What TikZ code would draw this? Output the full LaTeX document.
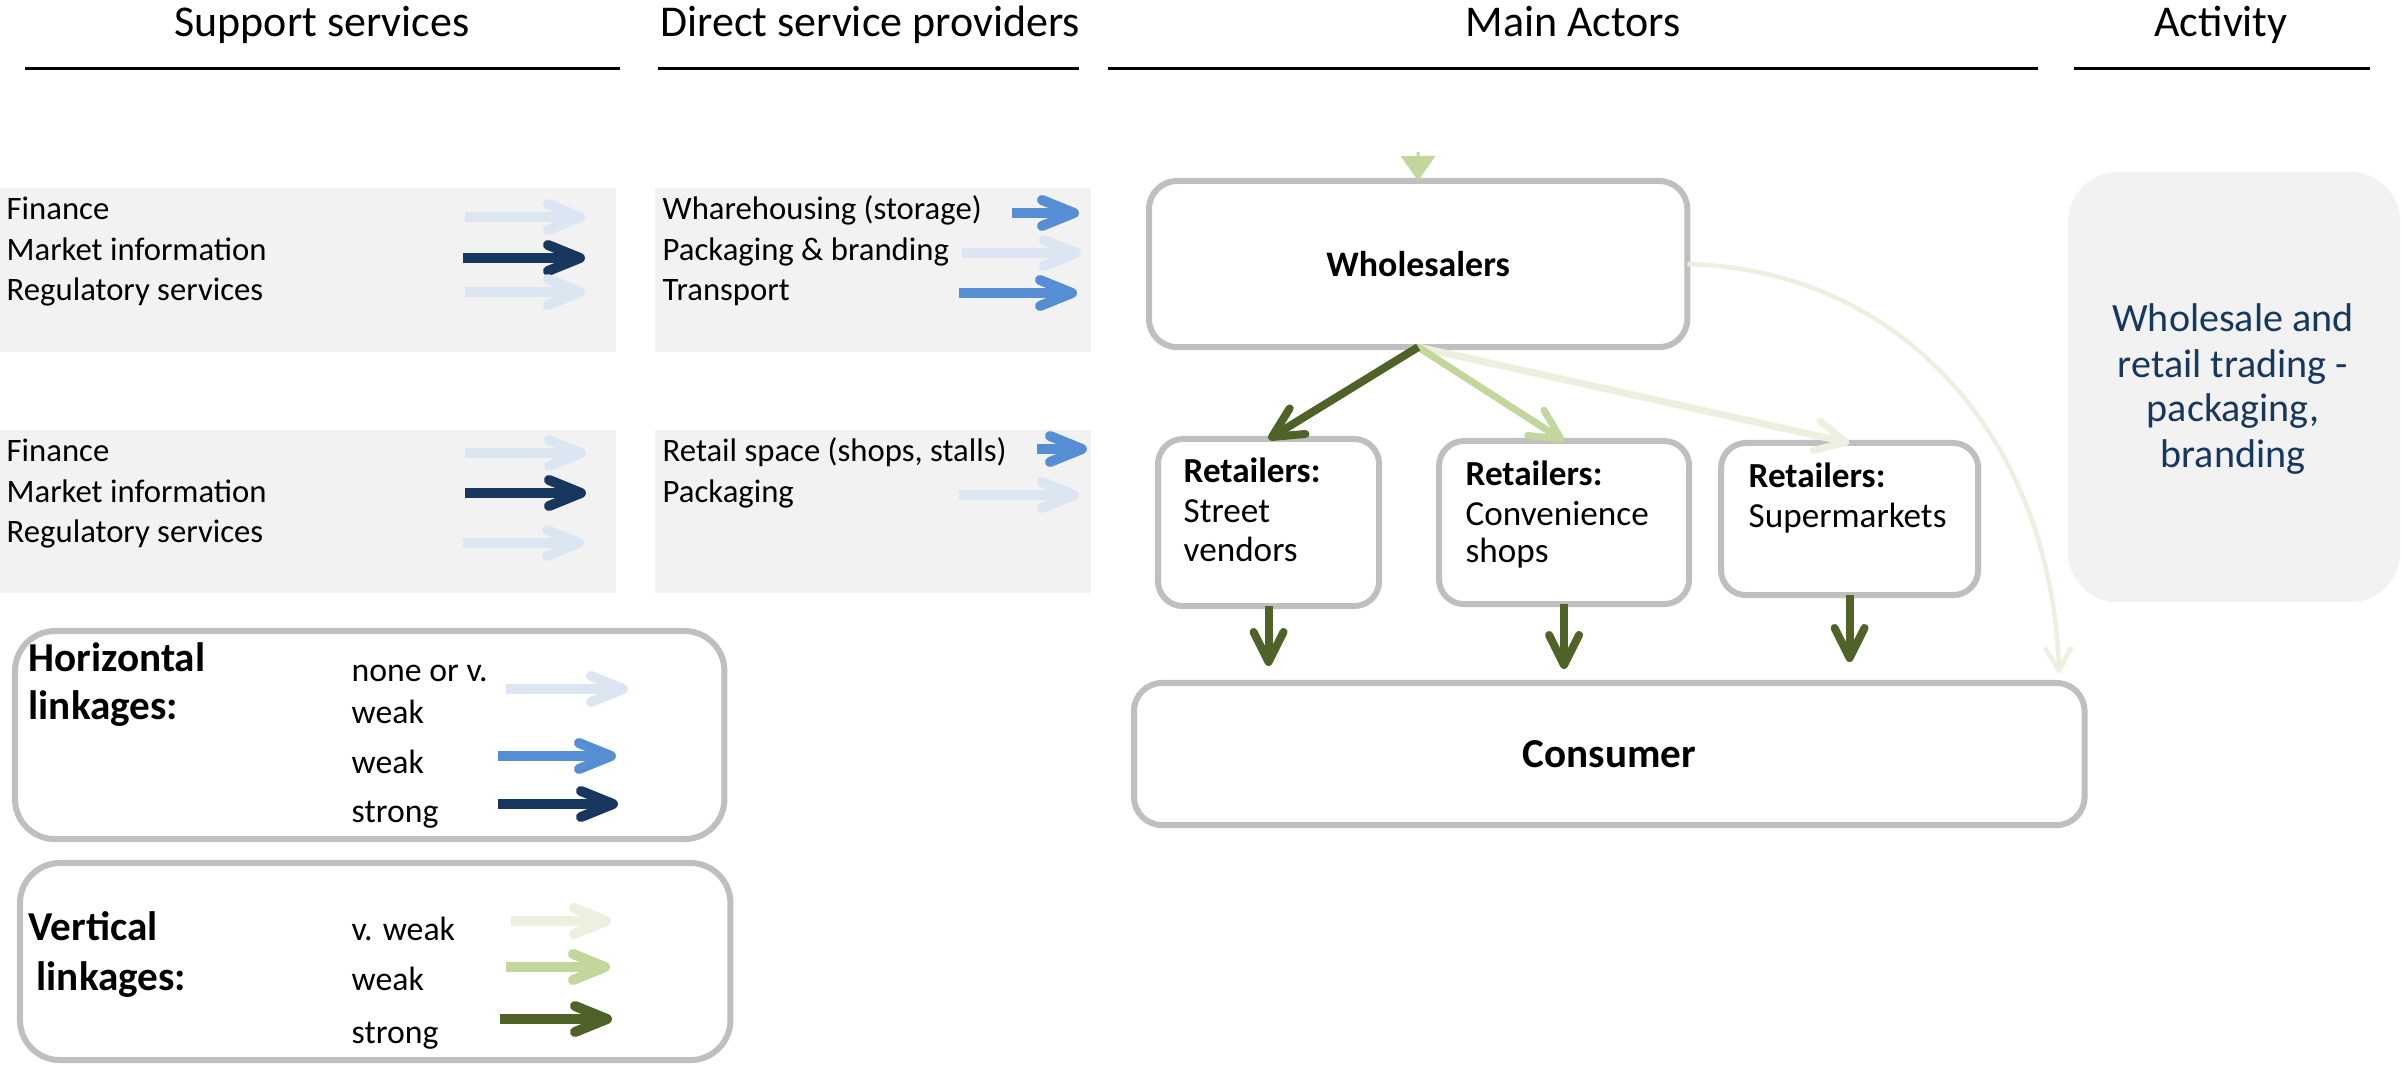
\documentclass[tikz,border=0pt]{standalone}
\usepackage{fontspec}
\setmainfont{Carlito}
\usetikzlibrary{arrows.meta}
\definecolor{lblue}{HTML}{DCE6F2}
\definecolor{mblue}{HTML}{558ED5}
\definecolor{dblue}{HTML}{17375E}
\definecolor{vgreen}{HTML}{EBF1DE}
\definecolor{wgreen}{HTML}{C3D69B}
\definecolor{sgreen}{HTML}{4F6228}
\definecolor{boxgray}{HTML}{F2F2F2}
\definecolor{bordergray}{HTML}{BFBFBF}
\definecolor{acttext}{HTML}{17375E}
\begin{document}
\begin{tikzpicture}[x=0.01cm, y=-0.01cm,
  hdr/.style={font=\fontsize{12.5}{15}\selectfont, anchor=base, inner sep=0pt},
  hline/.style={line width=0.3mm, black},
  panel/.style={fill=boxgray, draw=none, anchor=north west, inner sep=0pt, outer sep=0pt},
  txt/.style={font=\fontsize{9.3}{11.3}\selectfont, anchor=base west, inner sep=0pt},
  lgtitle/.style={font=\bfseries\fontsize{11.7}{14}\selectfont, anchor=base west, inner sep=0pt},
  lgtxt/.style={font=\fontsize{9.6}{11.6}\selectfont, anchor=base west, inner sep=0pt},
  rtxt/.style={font=\fontsize{10}{12}\selectfont, anchor=base west, inner sep=0pt},
  acttxt/.style={font=\fontsize{11.4}{13}\selectfont, anchor=base, inner sep=0pt, text=acttext},
  frame/.style={draw=bordergray, line width=0.6mm, fill=white, anchor=north west, inner sep=0pt, outer sep=0pt},
  harrow/.style={line width=1mm, -{Straight Barb[length=3.2mm,width=2.6mm,round]}},
  varrow/.style={line width=0.8mm, -{Straight Barb[length=3mm,width=3mm,round]}},
  carrow/.style={line width=0.45mm, -{Straight Barb[length=2.2mm,width=2.5mm,round]}},
]
\useasboundingbox (0,0) rectangle (2402,1067);

% headings
\node[hdr] (h1) at (322,37) {Support services};
\node[hdr] (h2) at (870,37) {Direct service providers};
\node[hdr] (h3) at (1573,37) {Main Actors};
\node[hdr] (h4) at (2221,37) {Activity};
\draw[hline] (25,69) -- (620,69);
\draw[hline] (658,69) -- (1079,69);
\draw[hline] (1108,69) -- (2038,69);
\draw[hline] (2074,69) -- (2370,69);

% gray panels
\node[panel, minimum width=6.16cm, minimum height=1.64cm] (p1) at (0,188) {};
\node[panel, minimum width=4.36cm, minimum height=1.64cm] (p2) at (655,188) {};
\node[panel, minimum width=6.16cm, minimum height=1.63cm] (p3) at (0,430) {};
\node[panel, minimum width=4.36cm, minimum height=1.63cm] (p4) at (655,430) {};

\node[txt] (s1a) at (6,220) {Finance};
\node[txt] (s1b) at (6,261) {Market information};
\node[txt] (s1c) at (6,301) {Regulatory services};
\node[txt] (d1a) at (662,220) {Wharehousing (storage)};
\node[txt] (d1b) at (662,261) {Packaging \& branding};
\node[txt] (d1c) at (662,301) {Transport};
\node[txt] (s2a) at (6,462) {Finance};
\node[txt] (s2b) at (6,503) {Market information};
\node[txt] (s2c) at (6,543) {Regulatory services};
\node[txt] (d2a) at (662,462) {Retail space (shops, stalls)};
\node[txt] (d2b) at (662,503) {Packaging};

% legend frames
\node[frame, rounded corners=0.4cm, minimum width=7.09cm, minimum height=2.08cm] (lgh) at (15,631) {};
\node[frame, rounded corners=0.4cm, minimum width=7.10cm, minimum height=1.97cm] (lgv) at (20,863) {};
\node[lgtitle] (lh1) at (28,672) {Horizontal};
\node[lgtitle] (lh2) at (28,720) {linkages:};
\node[lgtxt] (lh3) at (351,682) {none or v.};
\node[lgtxt] (lh4) at (351,723) {weak};
\node[lgtxt] (lh5) at (351,773) {weak};
\node[lgtxt] (lh6) at (351,822) {strong};
\node[lgtitle] (lv1) at (28,940) {Vertical};
\node[lgtitle] (lv2) at (36,990) {linkages:};
\node[lgtxt] (lv3) at (351,940) {v. weak};
\node[lgtxt] (lv4) at (351,990) {weak};
\node[lgtxt] (lv5) at (351,1043) {strong};

% short horizontal arrows
\foreach \n/\xa/\xb/\y/\c in {
  sa1/465/585/217/lblue, sa2/463/585/258/dblue, sa3/465/585/292/lblue,
  da1/1012/1079/213/mblue, da2/962/1081/253/lblue, da3/959/1077/293/mblue,
  sb1/465/586/453/lblue, sb2/465/586/493/dblue, sb3/463/584/543/lblue,
  db1/1037/1087/449/mblue, db2/959/1079/495/lblue,
  ka1/506/628/689/lblue, ka2/498/616/756/mblue, ka3/498/618/804/dblue,
  kb1/511/611/921/vgreen, kb2/506/610/967/wgreen, kb3/500/612/1019/sgreen}{
  \coordinate (\n s) at (\xa,\y);
  \coordinate (\n e) at (\xb,\y);
  \draw[harrow, \c] (\n s) -- (\n e);
}

% activity
\node[panel, rounded corners=0.5cm, minimum width=3.32cm, minimum height=4.30cm] (act) at (2068,172) {};
\node[acttxt] (ac1) at (2233,332) {Wholesale and};
\node[acttxt] (ac2) at (2233,378) {retail trading -};
\node[acttxt] (ac3) at (2233,422) {packaging,};
\node[acttxt] (ac4) at (2233,468) {branding};

% main actors
\node[frame, rounded corners=0.28cm, minimum width=5.38cm, minimum height=1.66cm,
      font=\bfseries\fontsize{10.2}{12}\selectfont] (ws) at (1149,181) {Wholesalers};
\node[frame, rounded corners=0.25cm, minimum width=2.21cm, minimum height=1.67cm] (r1) at (1158,439) {};
\node[frame, rounded corners=0.25cm, minimum width=2.50cm, minimum height=1.63cm] (r2) at (1439,441) {};
\node[frame, rounded corners=0.25cm, minimum width=2.57cm, minimum height=1.52cm] (r3) at (1721,443) {};
\node[frame, rounded corners=0.28cm, minimum width=9.50cm, minimum height=1.42cm,
      font=\bfseries\fontsize{11.7}{14}\selectfont] (cons) at (1134,683) {Consumer};

\node[rtxt, font=\bfseries\fontsize{10}{12}\selectfont] (r1a) at (1183,483) {Retailers:};
\node[rtxt] (r1b) at (1183,523) {Street};
\node[rtxt] (r1c) at (1183,562) {vendors};
\node[rtxt, font=\bfseries\fontsize{10}{12}\selectfont] (r2a) at (1465,486) {Retailers:};
\node[rtxt] (r2b) at (1465,526) {Convenience};
\node[rtxt] (r2c) at (1465,563) {shops};
\node[rtxt, font=\bfseries\fontsize{10}{12}\selectfont] (r3a) at (1748,488) {Retailers:};
\node[rtxt] (r3b) at (1748,528) {Supermarkets};

% connectors
\coordinate (topin) at (1418,152);
\draw[wgreen, line width=0.3mm, -{Triangle[length=2.5mm,width=3.4mm]}] (topin) -- (ws.north);
\draw[varrow, vgreen, line width=0.7mm] (ws.south) -- (r3.north);
\draw[varrow, wgreen, line width=0.7mm] (ws.south) -- (r2.north);
\draw[varrow, sgreen] (ws.south) -- (r1.north);
\draw[varrow, sgreen, shorten >=1.7mm] (r1.south) -- (r1.south |- cons.north);
\draw[varrow, sgreen, shorten >=1.4mm] (r2.south) -- (r2.south |- cons.north);
\draw[varrow, sgreen, shorten >=2.1mm] (r3.south) -- (r3.south |- cons.north);
\draw[carrow, vgreen, shorten >=1mm] (ws.east) .. controls +(210,5) and +(-9,-250) .. ([xshift=-0.25cm]cons.north east);
\end{tikzpicture}
\end{document}
